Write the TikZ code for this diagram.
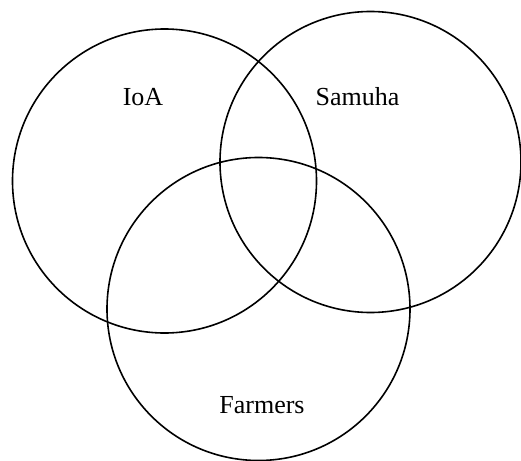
\documentclass[tikz,border=0pt]{standalone}
\usepackage{fontspec}
\setmainfont{Liberation Serif}

\begin{document}
\begin{tikzpicture}[x=0.5pt,y=-0.5pt,
    ring/.style={draw=black, line width=0.8pt},
    setname/.style={font=\fontsize{13}{15}\selectfont, inner sep=0pt}]
  \useasboundingbox (0,0) rectangle (521,461);
  % Draw the three overlapping circles
  \draw[ring] (164.5,181) circle (152);
  \draw[ring] (370.5,162) circle (150.5);
  \draw[ring] (258.5,309) circle (151.5);
  % Set labels
  \node[setname] (ioa) at (143,97) {IoA};
  \node[setname] (samuha) at (357.5,97) {Samuha};
  \node[setname] (farmers) at (262,405) {Farmers};
\end{tikzpicture}
\end{document}
